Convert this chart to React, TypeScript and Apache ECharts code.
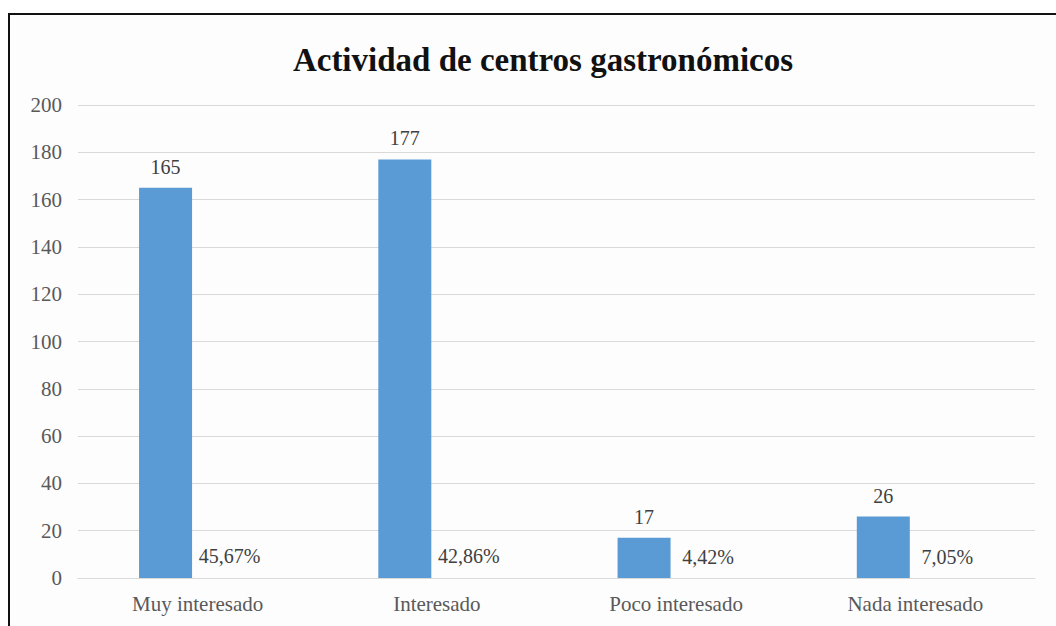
import React, { useEffect, useRef } from "react";
import * as echarts from "echarts";

const categories = ["Muy interesado", "Interesado", "Poco interesado", "Nada interesado"];
const counts = [165, 177, 17, 26];
const percents = [45.67, 42.86, 4.42, 7.05];
const yTicks = { min: 0, max: 200, interval: 20 };

const FONT = "'Liberation Serif', 'Times New Roman', serif";

export default function App() {
  const ref = useRef<HTMLDivElement>(null);
  useEffect(() => {
    if (!ref.current) return;
    const chart = echarts.init(ref.current, null, { renderer: "svg" });
    chart.setOption({
      animation: false,
      backgroundColor: "#ffffff",
      title: {
        text: "Actividad de centros gastronómicos",
        left: 538,
        textAlign: "center",
        top: 38,
        textStyle: { fontFamily: FONT, fontSize: 33, fontWeight: "bold", color: "#111111" },
      },
      graphic: [
        {
          type: "rect",
          shape: { x: 9, y: 14, width: 1200, height: 800 },
          style: { fill: "#fdfdfd", stroke: "#111111", lineWidth: 2 },
          z: -10,
          silent: true,
        },
      ],
      grid: { left: 78, right: 21, top: 105, bottom: 48 },
      xAxis: {
        type: "category",
        data: categories,
        axisLine: { show: true, lineStyle: { color: "#d9d9d9", width: 1 } },
        axisTick: { show: false },
        axisLabel: { fontFamily: FONT, fontSize: 21, color: "#595959", margin: 15 },
      },
      yAxis: {
        type: "value",
        min: yTicks.min,
        max: yTicks.max,
        interval: yTicks.interval,
        axisLine: { show: false },
        axisTick: { show: false },
        splitLine: { lineStyle: { color: "#d9d9d9", width: 1 } },
        axisLabel: { fontFamily: FONT, fontSize: 21, color: "#595959", margin: 16 },
      },
      series: [
        {
          type: "bar",
          data: counts,
          barWidth: 53,
          barGap: "21%",
          itemStyle: { color: "#5B9BD5" },
          label: {
            show: true,
            position: "top",
            distance: 11,
            fontFamily: FONT,
            fontSize: 20,
            color: "#404040",
          },
        },
        {
          type: "bar",
          data: percents.map((p) => p / 100),
          barWidth: 53,
          itemStyle: { color: "rgba(0,0,0,0)" },
          label: {
            show: true,
            position: "top",
            distance: 11,
            fontFamily: FONT,
            fontSize: 20,
            color: "#404040",
            formatter: (p: any) => percents[p.dataIndex].toFixed(2).replace(".", ",") + "%",
          },
        },
      ],
    });
    return () => chart.dispose();
  }, []);
  return (
    <div
      ref={ref}
      style={{ position: "fixed", left: 0, top: 0, width: 1056, height: 626 }}
    />
  );
}
